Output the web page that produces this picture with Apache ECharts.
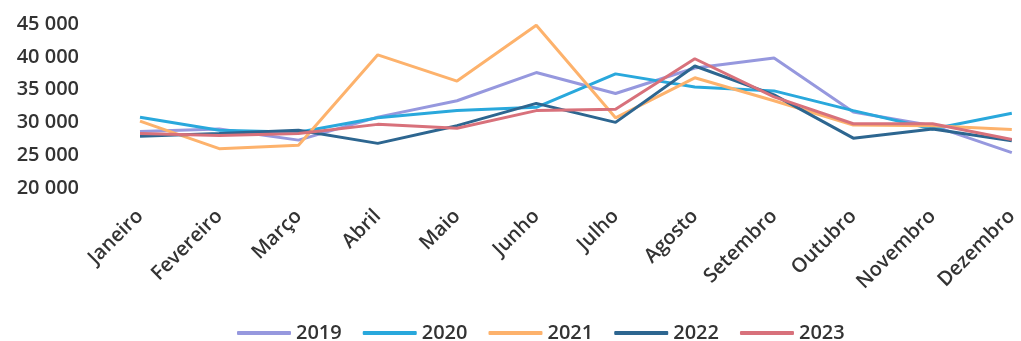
<!DOCTYPE html>
<html>
<head>
<meta charset="utf-8">
<script src="https://cdn.jsdelivr.net/npm/echarts@6/dist/echarts.min.js"></script>
<style>
  html, body { margin: 0; padding: 0; background: #ffffff; }
  #chart { width: 1021px; height: 341px; }
</style>
</head>
<body>
<div id="chart"></div>
<script>
// Monthly totals per year
const months = ['Janeiro', 'Fevereiro', 'Março', 'Abril', 'Maio', 'Junho', 'Julho', 'Agosto', 'Setembro', 'Outubro', 'Novembro', 'Dezembro'];
const years = ['2019', '2020', '2021', '2022', '2023'];
const values2019 = [28600, 29000, 27300, 30800, 33300, 37600, 34400, 38300, 39800, 31600, 29500, 25400];
const values2020 = [30800, 28800, 28500, 30700, 31800, 32300, 37400, 35400, 34800, 31800, 29000, 31400];
const values2021 = [30200, 26000, 26500, 40300, 36300, 44800, 30700, 36800, 33300, 29600, 29500, 28900];
const values2022 = [27900, 28300, 28800, 26800, 29500, 32900, 30000, 38600, 34200, 27600, 29000, 27200];
const values2023 = [28300, 28000, 28300, 29700, 29100, 31800, 32000, 39700, 33900, 29800, 29800, 27400];
const yTicks = { min: 20000, max: 45000, step: 5000 };

const seriesValues = [values2019, values2020, values2021, values2022, values2023];
const colors = ['#9698DE', '#29A8DC', '#FDB26C', '#2D6690', '#D8717B'];

const fontFamily = '"Open Sans", "DejaVu Sans", sans-serif';

function thousands(v) {
  return String(v).replace(/\B(?=(\d{3})+(?!\d))/g, ' ');
}

const chart = echarts.init(document.getElementById('chart'), null, { renderer: 'canvas' });
chart.setOption({
  animation: false,
  color: colors,
  grid: { left: 140, right: 5, top: 24, bottom: 153 },
  legend: {
    top: 318,
    left: 232,
    icon: 'roundRect',
    itemWidth: 54,
    itemHeight: 4,
    itemGap: 21,
    textStyle: { fontFamily: fontFamily, fontSize: 20, color: '#333333', fontWeight: 600 },
    data: years
  },
  xAxis: {
    type: 'category',
    data: months,
    boundaryGap: false,
    axisLine: { show: false },
    axisTick: { show: false },
    splitLine: { show: false },
    axisLabel: {
      rotate: 45,
      margin: 25,
      interval: 0,
      fontFamily: fontFamily,
      fontSize: 20,
      fontWeight: 600,
      color: '#333333'
    }
  },
  yAxis: {
    type: 'value',
    min: yTicks.min,
    max: yTicks.max,
    interval: yTicks.step,
    axisLine: { show: false },
    axisTick: { show: false },
    splitLine: { show: false },
    axisLabel: {
      margin: 61,
      fontFamily: fontFamily,
      fontSize: 20,
      fontWeight: 600,
      color: '#333333',
      formatter: thousands
    }
  },
  series: years.map((y, i) => ({
    name: y,
    type: 'line',
    data: seriesValues[i],
    showSymbol: false,
    symbol: 'none',
    lineStyle: { width: 3, color: colors[i] },
    itemStyle: { color: colors[i] }
  }))
});
</script>
</body>
</html>
